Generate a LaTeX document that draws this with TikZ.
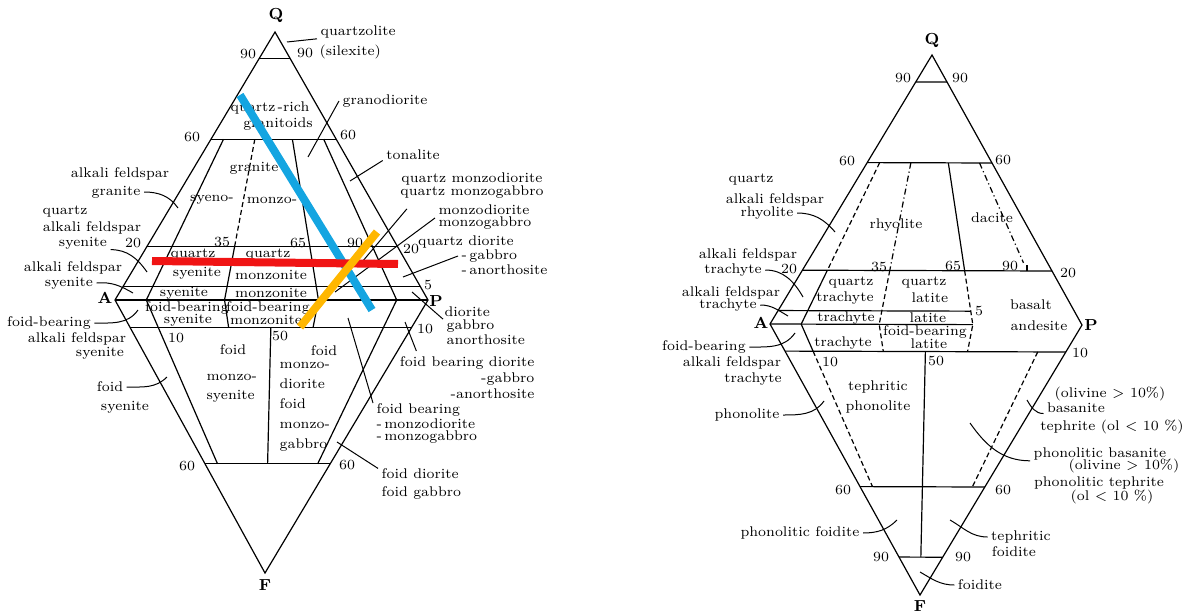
\documentclass[tikz,border=0pt]{standalone}
\usepackage{tikz}
\usetikzlibrary{calc}

\definecolor{hiblue}{RGB}{20,165,225}
\definecolor{hired}{RGB}{240,20,20}
\definecolor{hiorange}{RGB}{255,183,0}

\begin{document}
\begin{tikzpicture}[x=0.5pt,y=-0.5pt,line width=0.6pt,
	lbl/.style={font=\fontsize{7}{7}\selectfont, inner xsep=1.5pt, inner ysep=0pt, align=center},
	lbll/.style={lbl, align=left},
	vtx/.style={font=\fontsize{8}{8}\selectfont\bfseries, inner sep=0pt},
	dashln/.style={dash pattern=on 2.5pt off 1.5pt},
	dotdashln/.style={dash pattern=on 3pt off 1.5pt on 0.6pt off 1.5pt},
	ldr/.style={line width=0.5pt},
	hiline/.style={line width=4pt},
	]
	\useasboundingbox (0,0) rectangle (1183,615);

	% ---------- plutonic diagram ----------
	\coordinate (QL) at (275,32);
	\coordinate (AL) at (115,300);
	\coordinate (PL) at (428,300);
	\coordinate (FL) at (265,573);
	\foreach \r/\n in {0.1/10,0.35/35,0.5/50,0.65/65,0.9/90}
		\coordinate (bL\n) at ($(AL)!\r!(PL)$);

	\draw (QL) -- (AL) -- (FL) -- (PL) -- cycle;
	\foreach \f in {0.1,0.4,0.8,0.95}
		\draw ($(QL)!\f!(AL)$) -- ($(QL)!\f!(PL)$);
	\draw (AL) -- (PL);
	\foreach \f in {0.1,0.6}
		\draw ($(AL)!\f!(FL)$) -- ($(PL)!\f!(FL)$);
	\draw ($(QL)!0.4!(bL10)$) -- (bL10) -- ($(bL10)!0.6!(FL)$);
	\draw[dashln] ($(QL)!0.4!(bL35)$) -- ($(QL)!0.8!(bL35)$);
	\draw ($(QL)!0.8!(bL35)$) -- (bL35) -- ($(bL35)!0.1!(FL)$);
	\draw ($(QL)!0.4!(bL65)$) -- (bL65) -- ($(bL65)!0.1!(FL)$);
	\draw ($(QL)!0.4!(bL90)$) -- (bL90) -- ($(bL90)!0.6!(FL)$);
	\draw ($(bL50)!0.1!(FL)$) -- ($(bL50)!0.6!(FL)$);

	\node[vtx] (vQL) at (276,15) {Q};
	\node[vtx] (vAL) at (105,298) {A};
	\node[vtx] (vPL) at (436,301) {P};
	\node[vtx] (vFL) at (265,585) {F};

	\foreach \t/\x/\y [count=\i] in {90/248/54,90/305/53,60/192/137,60/348/135,
		20/133/243,35/222/242,65/298/243,90/355/243,20/411/249,5/428/285,
		10/176/338,50/280/336,10/425/329,60/187/466,60/347/465}
		\node[lbl] (numL\i) at (\x,\y) {\t};

	\foreach \t/\x/\y [count=\i] in {quartz\,-rich/270/108,granitoids/278/124,
		granite/254/168,syeno-/212/200,monzo-/272/200,
		quartz/193/255,syenite/197/273,quartz/268/255,monzonite/271/275,
		syenite/184/293,monzonite/271/293,
		foid-bearing/187/308,syenite/188/320,foid-bearing/268/308,monzonite/266/320,
		foid/233/350,foid/324/351}
		\node[lbl] (fldL\i) at (\x,\y) {\t};
	\node[lbll, anchor=west] (fldLms) at (203,388.5) {monzo-\\[2.5pt]syenite};
	\node[lbll, anchor=west] (fldLmd) at (276,406.5)
		{monzo-\\[3pt]diorite\\[3pt]foid\\[3pt]monzo-\\[3pt]gabbro};

	% labels with leaders
	\node[lbl, anchor=west] (tQzl) at (317,32) {quartzolite};
	\node[lbl, anchor=west] (tSil) at (316,52) {(silexite)};
	\node[lbl] (tGd) at (385,101) {granodiorite};
	\node[lbl] (tTo) at (413,155) {tonalite};
	\node[lbl] (tAfg1) at (120,174) {alkali feldspar};
	\node[lbl] (tAfg2) at (116,192) {granite};
	\node[lbl] (tQafs1) at (65,212) {quartz};
	\node[lbl] (tQafs2) at (92,228) {alkali feldspar};
	\node[lbl] (tQafs3) at (83,243) {syenite};
	\node[lbl] (tAfs1) at (73,268) {alkali feldspar};
	\node[lbl] (tAfs2) at (69,283) {syenite};
	\node[lbl] (tQmd1) at (472,179) {quartz monzodiorite};
	\node[lbl] (tQmd2) at (472,192) {quartz monzogabbro};
	\node[lbl] (tMd1) at (484,210) {monzodiorite};
	\node[lbl] (tMd2) at (485,223) {monzogabbro};
	\node[lbl] (tQd1) at (466,242) {quartz diorite};
	\node[lbl, anchor=west] (tQd2) at (458,256) {-\,gabbro};
	\node[lbl, anchor=west] (tQd3) at (458,270) {-\,anorthosite};
	\node[lbl, anchor=west] (tDi1) at (441,312) {diorite};
	\node[lbl, anchor=west] (tDi2) at (443,326) {gabbro};
	\node[lbl, anchor=west] (tDi3) at (443,340) {anorthosite};
	\node[lbl, anchor=east] (tFbd1) at (538,363) {foid bearing diorite};
	\node[lbl, anchor=east] (tFbd2) at (538,379) {-gabbro};
	\node[lbl, anchor=east] (tFbd3) at (538,394) {-anorthosite};
	\node[lbl, anchor=west] (tFbm1) at (373,410) {foid bearing};
	\node[lbl, anchor=west] (tFbm2) at (373,424) {-\,monzodiorite};
	\node[lbl, anchor=west] (tFbm3) at (373,437) {-\,monzogabbro};
	\node[lbl, anchor=west] (tFd1) at (378,474) {foid diorite};
	\node[lbl, anchor=west] (tFd2) at (378,493) {foid gabbro};
	\node[lbl] (tFbafs1) at (49,323) {foid-bearing};
	\node[lbl] (tFbafs2) at (77,339) {alkali feldspar};
	\node[lbl] (tFbafs3) at (100,353) {syenite};
	\node[lbl] (tFs1) at (110,387) {foid};
	\node[lbl] (tFs2) at (125,407) {syenite};

	\coordinate (kQzl) at (287,42);
	\coordinate (kGd) at (308,157);
	\coordinate (kTo) at (350,181);
	\coordinate (kAfg) at (178,208);
	\coordinate (kQafs) at (147,272);
	\coordinate (kAfs) at (133,293);
	\coordinate (kQmd) at (362,262);
	\coordinate (kMd) at (335,292);
	\coordinate (kQd) at (403,277);
	\coordinate (kDi) at (412,292);
	\coordinate (kFbd) at (405,322);
	\coordinate (kFbm) at (348,318);
	\coordinate (kFd) at (337,442);
	\coordinate (kFbafs) at (138,310);
	\coordinate (kFs) at (167,377);

	\draw[ldr] (tQzl.south west) -- (kQzl);
	\draw[ldr] (tGd.west) -- (kGd);
	\draw[ldr] (tTo.south west) -- (kTo);
	\draw[ldr] (tAfg2.east) to[out=0,in=125] (kAfg);
	\draw[ldr] (tQafs3.south east) to[out=0,in=125] (kQafs);
	\draw[ldr] (tAfs2.east) to[out=5,in=150] (kAfs);
	\draw[ldr] ($(tQmd2.south west)+(10,10)$) -- (kQmd);
	\draw[ldr] ($(tMd2.west)+(0,-5)$) -- (kMd);
	\draw[ldr] (tQd2.west) -- (kQd);
	\draw[ldr] (tDi2.north west) -- (kDi);
	\draw[ldr] ($(tFbd1.north west)+(20,-5)$) -- (kFbd);
	\draw[ldr] (tFbm1.north west) -- (kFbm);
	\draw[ldr] (tFd1.north west) -- (kFd);
	\draw[ldr] (tFbafs1.east) to[out=0,in=235] (kFbafs);
	\draw[ldr] (tFs1.east) to[out=0,in=225] (kFs);

	% highlight strokes
	\coordinate (hb1) at (240,95);
	\coordinate (hb2) at (372,310);
	\coordinate (hr1) at (152,261);
	\coordinate (hr2) at (398,264);
	\coordinate (ho1) at (300,327);
	\coordinate (ho2) at (377,232);
	\draw[hiline, hiblue] (hb1) -- (hb2);
	\draw[hiline, hired] (hr1) -- (hr2);
	\draw[hiline, hiorange] (ho1) -- (ho2);

	% ---------- volcanic diagram ----------
	\coordinate (QR) at (932,55);
	\coordinate (AR) at (770,324);
	\coordinate (PR) at (1082,325);
	\coordinate (FR) at (920,595);
	\foreach \r/\n in {0.1/10,0.35/35,0.5/50,0.65/65,0.9/90}
		\coordinate (bR\n) at ($(AR)!\r!(PR)$);

	\draw (QR) -- (AR) -- (FR) -- (PR) -- cycle;
	\foreach \f in {0.1,0.4,0.8}
		\draw ($(QR)!\f!(AR)$) -- ($(QR)!\f!(PR)$);
	\draw ($(QR)!0.95!(AR)$) -- ($(QR)!0.95!(bR65)$);
	\draw (AR) -- (bR65);
	\foreach \f in {0.1,0.6,0.86}
		\draw ($(AR)!\f!(FR)$) -- ($(PR)!\f!(FR)$);
	\draw[dashln] ($(QR)!0.4!(bR10)$) -- ($(QR)!0.8!(bR10)$);
	\draw ($(QR)!0.8!(bR10)$) -- (bR10) -- ($(bR10)!0.1!(FR)$);
	\draw[dashln] ($(bR10)!0.1!(FR)$) -- ($(bR10)!0.6!(FR)$);
	\draw[dotdashln] ($(QR)!0.4!(bR35)$) -- ($(QR)!0.8!(bR35)$);
	\draw[dashln] ($(QR)!0.8!(bR35)$) -- (bR35) -- ($(bR35)!0.1!(FR)$);
	\draw ($(QR)!0.4!(bR65)$) -- ($(QR)!0.8!(bR65)$);
	\draw[dashln] ($(QR)!0.8!(bR65)$) -- (bR65) -- ($(bR65)!0.1!(FR)$);
	\draw[dotdashln] ($(QR)!0.4!(bR90)$) -- ($(QR)!0.77!(bR90)$);
	\draw ($(QR)!0.8!(bR90)$) -- ++(0,-6);
	\draw ($(bR50)!0.1!(FR)$) -- ($(bR50)!0.86!(FR)$);
	\draw[dashln] ($(bR90)!0.1!(FR)$) -- ($(bR90)!0.6!(FR)$);

	\node[vtx] (vQR) at (932,40) {Q};
	\node[vtx] (vAR) at (761,323) {A};
	\node[vtx] (vPR) at (1091,325) {P};
	\node[vtx] (vFR) at (920,606) {F};

	\foreach \t/\x/\y [count=\i] in {90/903/78,90/960/78,60/847/161,60/1003/160,
		20/789/269,35/879/267,65/953/266,90/1010/266,20/1068/273,5/979/311,
		10/830/362,50/936/361,10/1080/353,60/843/490,60/1003/490,
		90/881/557,90/963/557}
		\node[lbl] (numR\i) at (\x,\y) {\t};

	\foreach \t/\x/\y [count=\i] in {rhyolite/896/225,dacite/992/218,
		quartz/851/283,trachyte/845/298,quartz/924/283,latite/930/298,
		basalt/1031/305,andesite/1039/326,trachyte/846/318,latite/928/318,
		trachyte/843/343,foid-bearing/925/332,latite/929/344,
		tephritic/878/387,phonolite/878/407}
		\node[lbl] (fldR\i) at (\x,\y) {\t};

	\node[lbl] (tQafr1) at (751,180) {quartz};
	\node[lbl] (tQafr2) at (775,200) {alkali feldspar};
	\node[lbl] (tQafr3) at (767,213) {rhyolite};
	\node[lbl] (tAft1) at (748,255) {alkali feldspar};
	\node[lbl] (tAft2) at (733,270) {trachyte};
	\node[lbl] (tAft3) at (731,293) {alkali feldspar};
	\node[lbl] (tAft4) at (728,305) {trachyte};
	\node[lbl] (tFbat1) at (704,347) {foid-bearing};
	\node[lbl] (tFbat2) at (732,363) {alkali feldspar};
	\node[lbl] (tFbat3) at (753,379) {trachyte};
	\node[lbl] (tPh) at (747,415) {phonolite};
	\node[lbl] (tPf) at (800,533) {phonolitic foidite};
	\node[lbl] (tFo) at (980,585) {foidite};
	\node[lbl] (tTf1) at (1021,537) {tephritic};
	\node[lbl] (tTf2) at (1014,552) {foidite};
	\node[lbl] (tBa1) at (1110,394) {(olivine > 10\%)};
	\node[lbl] (tBa2) at (1076,408) {basanite};
	\node[lbl] (tBa3) at (1112,427) {tephrite (ol < 10 \%)};
	\node[lbl] (tPb1) at (1100,454) {phonolitic basanite};
	\node[lbl] (tPb2) at (1124,466) {(olivine > 10\%)};
	\node[lbl] (tPb3) at (1099,483) {phonolitic tephrite};
	\node[lbl] (tPb4) at (1112,497) {(ol < 10 \%)};

	\coordinate (kQafr) at (835,232);
	\coordinate (kAft) at (803,297);
	\coordinate (kAft2) at (788,316);
	\coordinate (kFbat) at (795,333);
	\coordinate (kPh) at (824,401);
	\coordinate (kPf) at (897,520);
	\coordinate (kFo) at (920,572);
	\coordinate (kTf) at (950,520);
	\coordinate (kBa) at (1027,400);
	\coordinate (kPb) at (970,423);

	\draw[ldr] (tQafr3.east) to[out=0,in=130] (kQafr);
	\draw[ldr] (tAft2.east) to[out=0,in=120] (kAft);
	\draw[ldr] (tAft4.east) to[out=0,in=150] (kAft2);
	\draw[ldr] (tFbat1.east) to[out=0,in=235] (kFbat);
	\draw[ldr] (tPh.east) to[out=0,in=235] (kPh);
	\draw[ldr] (tPf.east) to[out=0,in=225] (kPf);
	\draw[ldr] (tFo.west) to[out=180,in=-30] (kFo);
	\draw[ldr] (tTf1.west) to[out=180,in=-30] (kTf);
	\draw[ldr] (tBa2.south west) to[out=180,in=-60] (kBa);
	\draw[ldr] (tPb1.south west) to[out=180,in=-55] (kPb);
\end{tikzpicture}
\end{document}
